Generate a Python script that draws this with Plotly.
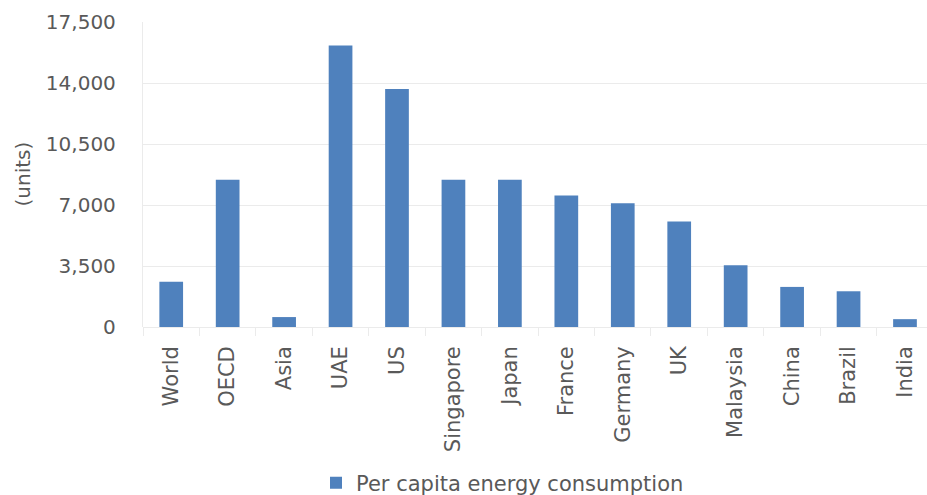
import plotly.graph_objects as go

categories = ["World", "OECD", "Asia", "UAE", "US", "Singapore", "Japan",
              "France", "Germany", "UK", "Malaysia", "China", "Brazil", "India"]
values = [2600, 8450, 570, 16150, 13650, 8450, 8450,
          7550, 7100, 6050, 3550, 2300, 2050, 450]
y_ticks = [0, 3500, 7000, 10500, 14000, 17500]
y_tick_labels = ["0", "3,500", "7,000", "10,500", "14,000", "17,500"]
series_name = "Per capita energy consumption"
y_title = "(units)"

FONT = "DejaVu Sans"
TXT = "#595959"
GRID = "#ebebeb"

fig = go.Figure()
fig.add_trace(go.Bar(
    x=categories, y=values, name=series_name,
    marker=dict(color="#4f81bd", line=dict(width=0)),
    width=0.42, showlegend=True,
))

W, H = 927, 495
L, R, T, B = 143, 0, 22, 168
pw = W - L - R
ph = H - T - B

fig.update_layout(
    width=W, height=H,
    margin=dict(l=L, r=R, t=T, b=B, pad=0, autoexpand=False),
    paper_bgcolor="white", plot_bgcolor="white",
    font=dict(family=FONT, color=TXT, size=20),
    showlegend=True,
    legend=dict(
        orientation="h", x=(316 - L) / pw, xanchor="left",
        y=-(483 - (T + ph)) / ph, yanchor="middle",
        font=dict(size=21, color=TXT, family=FONT),
        bgcolor="rgba(0,0,0,0)",
    ),
    xaxis=dict(
        type="category", range=[-0.5, 13.39],
        tickangle=-90, tickson="boundaries",
        ticks="outside", ticklen=8, tickwidth=1.3, tickcolor=GRID,
        showgrid=False, showline=False, zeroline=False,
        tickfont=dict(size=21, color=TXT, family=FONT),
        ticklabelstandoff=14, automargin=False,
    ),
    yaxis=dict(
        range=[0, 17500], tickvals=y_ticks, ticktext=y_tick_labels,
        showgrid=True, gridcolor=GRID, gridwidth=1.3,
        zeroline=True, zerolinecolor=GRID, zerolinewidth=1.3,
        showline=True, linecolor=GRID, linewidth=1.3,
        ticks="", tickfont=dict(size=20, color=TXT, family=FONT),
        ticklabelstandoff=22, automargin=False,
    ),
    annotations=[dict(
        text=y_title, xref="paper", yref="paper",
        x=(22 - L) / pw, y=0.5, xanchor="center", yanchor="middle",
        textangle=-90, showarrow=False,
        font=dict(size=20, color=TXT, family=FONT),
    )],
)

fig.write_html("out.html")
